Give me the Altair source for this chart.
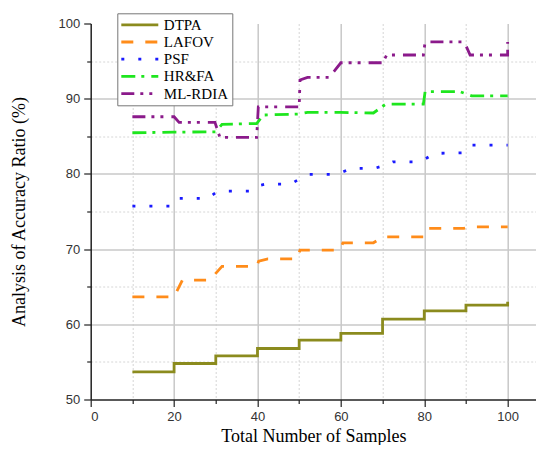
import altair as alt
import pandas as pd

series_names = ["DTPA", "LAFOV", "PSF", "HR&FA", "ML-RDIA"]
series_colors = ["#8b8b1e", "#ff8c1a", "#1a1aff", "#1ee61e", "#8b1a8b"]
series_dashes = [[1, 0], [12, 12], [3, 14], [14, 6, 3, 7], [13, 6, 3, 6, 3, 8]]

dtpa_x = [10, 20, 20, 30, 30, 40, 40, 50, 50, 60, 60, 70, 70, 80, 80, 90, 90, 100, 100]
dtpa_y = [53.67, 53.67, 54.79, 54.79, 55.8, 55.8, 56.78, 56.78, 57.89, 57.89, 58.78, 58.78,
          60.68, 60.68, 61.79, 61.79, 62.55, 62.55, 62.99]

lafov_x = [10, 20, 22, 28.5, 31.5, 39.8, 40.3, 42.5, 49.5, 50.2, 59.8, 60.5, 67.8, 70.2,
           79.8, 80.5, 89.5, 90.5, 100]
lafov_y = [63.65, 63.65, 65.87, 65.87, 67.7, 67.7, 68.4, 68.7, 68.7, 69.87, 69.87, 70.84,
           70.84, 71.63, 71.63, 72.75, 72.75, 72.96, 72.96]

psf_x = [10, 19, 20.5, 28, 30, 32, 38, 40, 42, 48, 50, 52.5, 58, 60, 62.5, 68, 70, 72.5,
         78, 80, 82.5, 89.5, 91.5, 100]
psf_y = [75.72, 75.72, 76.74, 76.74, 77.5, 77.7, 77.7, 78.42, 78.65, 78.65, 79.3, 79.93,
         79.93, 80.15, 80.73, 80.73, 81.04, 81.61, 81.61, 81.93, 82.73, 82.8, 83.83, 83.83]

hrfa_x = [10, 20, 30, 31.5, 39.8, 41.4, 50, 52, 60, 67.8, 70.8, 79.8, 80.2, 88.6, 91.4, 100]
hrfa_y = [85.47, 85.55, 85.6, 86.6, 86.7, 87.83, 87.96, 88.18, 88.18, 88.1, 89.29, 89.29,
          90.93, 90.93, 90.37, 90.37]

mlrdia_x = [10, 20, 21.2, 29.8, 31, 39.8, 40.2, 50, 50.2, 52, 57.2, 60, 70, 71, 79.8, 80.2,
            89.6, 91, 100, 100]
mlrdia_y = [87.6, 87.6, 86.85, 86.85, 84.85, 84.85, 88.9, 88.9, 92.48, 92.84, 92.84, 94.78,
            94.78, 95.81, 95.81, 97.55, 97.55, 95.81, 95.81, 97.55]

x_ticks = [0, 10, 20, 30, 40, 50, 60, 70, 80, 90, 100]
y_ticks = [50, 55, 60, 65, 70, 75, 80, 85, 90, 95, 100]

rows = []
for name, xs, ys in zip(series_names,
                        [dtpa_x, lafov_x, psf_x, hrfa_x, mlrdia_x],
                        [dtpa_y, lafov_y, psf_y, hrfa_y, mlrdia_y]):
    for i, (xv, yv) in enumerate(zip(xs, ys)):
        rows.append({"series": name, "x": xv, "y": yv, "i": i})
df = pd.DataFrame(rows)

x_major = "datum.value % 20 === 0"
y_major = "datum.value % 10 === 0"

x_axis = alt.Axis(
    values=x_ticks,
    labelExpr="datum.value % 20 === 0 ? datum.label : ''",
    labelOverlap=False,
    title="Total Number of Samples",
    titleFont="Liberation Serif", titleFontSize=18, titleFontWeight="normal",
    titleColor="black", titlePadding=4,
    labelFont="Liberation Sans", labelFontSize=13, labelColor="#333", labelPadding=4,
    domainColor="#222", domainWidth=1.5,
    tickColor="#222", tickWidth=1.2,
    tickSize={"condition": {"test": x_major, "value": 7}, "value": 4},
    grid=True,
    gridColor={"condition": {"test": x_major, "value": "#c8c8c8"}, "value": "#d6d6d6"},
    gridDash={"condition": {"test": x_major, "value": []}, "value": [2, 2]},
    gridWidth={"condition": {"test": x_major, "value": 1.5}, "value": 1},
    gridOpacity={"condition": {"test": "datum.value === 0", "value": 0}, "value": 1},
)

y_axis = alt.Axis(
    values=y_ticks,
    labelExpr="datum.value % 10 === 0 ? datum.label : ''",
    labelOverlap=False,
    title="Analysis of Accuracy Ratio (%)",
    titleFont="Liberation Serif", titleFontSize=18, titleFontWeight="normal",
    titleColor="black", titlePadding=30,
    labelFont="Liberation Sans", labelFontSize=13, labelColor="#333", labelPadding=4,
    domainColor="#222", domainWidth=1.5,
    tickColor="#222", tickWidth=1.2,
    tickSize={"condition": {"test": y_major, "value": 7}, "value": 4},
    grid=True,
    gridColor={"condition": {"test": y_major, "value": "#c8c8c8"}, "value": "#d6d6d6"},
    gridDash={"condition": {"test": y_major, "value": []}, "value": [2, 2]},
    gridWidth={"condition": {"test": y_major, "value": 1.5}, "value": 1},
    gridOpacity={"condition": {"test": "datum.value === 50 || datum.value === 100", "value": 0}, "value": 1},
)

leg = alt.Legend(
    title=None, orient="none", legendX=26.6, legendY=-10.2,
    symbolType="M-3,0H3", symbolSize=152, symbolStrokeWidth=2.8, symbolOffset=11,
    symbolFillColor="transparent",
    labelFont="Liberation Serif", labelFontSize=15, labelColor="black", labelOffset=16,
    rowPadding=1.2, padding=3.5, strokeColor="#777", fillColor="white",
)

chart = alt.Chart(df).mark_line(strokeWidth=2.8, clip=True).encode(
    x=alt.X("x:Q", scale=alt.Scale(domain=[0, 106.8], nice=False, zero=False), axis=x_axis),
    y=alt.Y("y:Q", scale=alt.Scale(domain=[50, 100], nice=False, zero=False), axis=y_axis),
    color=alt.Color("series:N", scale=alt.Scale(domain=series_names, range=series_colors), legend=leg),
    strokeDash=alt.StrokeDash("series:N", scale=alt.Scale(domain=series_names, range=series_dashes), legend=leg),
    order=alt.Order("i:Q"),
).properties(
    width=445.3, height=376,
    autosize=alt.AutoSizeParams(type="none"),
    padding={"left": 82.7, "top": 15.5, "right": 0, "bottom": 45.5},
    background="white",
).configure_view(stroke=None)

chart.save("out.html", embed_options={"renderer": "svg", "actions": False})
